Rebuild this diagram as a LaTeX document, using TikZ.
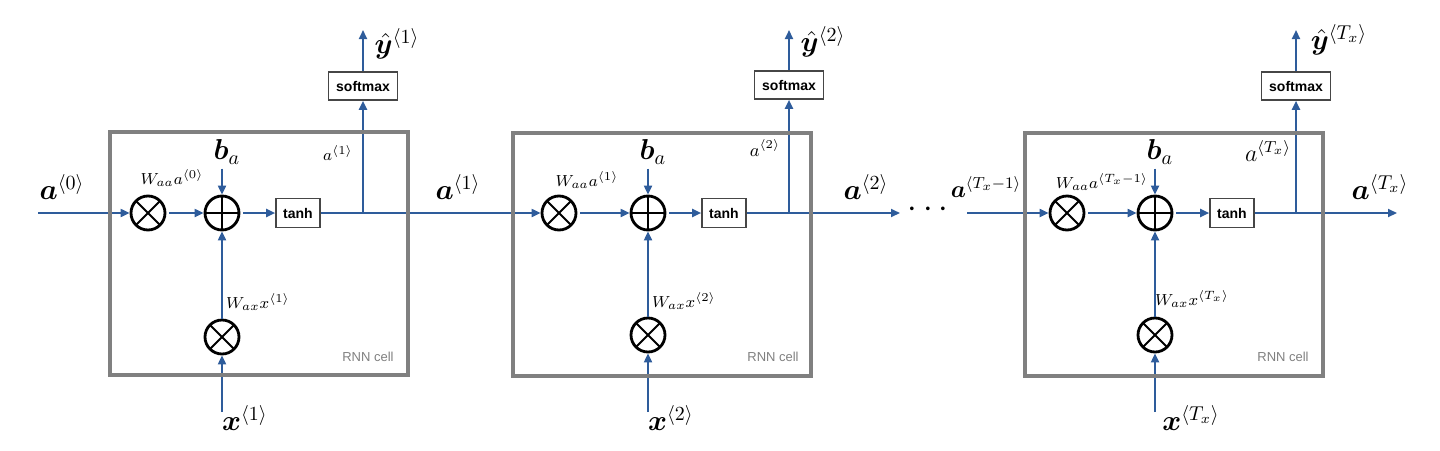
\documentclass[tikz,border=0pt]{standalone}
\usepackage{fontspec}
\usepackage{bm}
\setsansfont{Liberation Sans}
\usetikzlibrary{arrows.meta}
\definecolor{flow}{RGB}{46,92,155}
\definecolor{cellgray}{RGB}{128,128,128}
\definecolor{boxgray}{RGB}{70,70,70}
\begin{document}
\begin{tikzpicture}[x=0.5pt,y=-0.5pt,
  arr/.style={draw=flow,line width=1pt,-{Triangle[length=4.5pt,width=4pt]}},
  opnode/.style={circle,draw=black,line width=1.4pt,minimum size=17pt,inner sep=0pt},
  mult/.style={opnode,path picture={\draw[line width=0.9pt]
      (path picture bounding box.north west)--(path picture bounding box.south east)
      (path picture bounding box.north east)--(path picture bounding box.south west);}},
  plus/.style={opnode,path picture={\draw[line width=0.9pt]
      (path picture bounding box.north)--(path picture bounding box.south)
      (path picture bounding box.west)--(path picture bounding box.east);}},
  actbox/.style={draw=boxgray,line width=0.8pt,inner sep=0pt,minimum width=22pt,minimum height=14.5pt,
      font=\sffamily\bfseries\fontsize{7}{8}\selectfont},
  softbox/.style={actbox,minimum width=34.5pt,minimum height=14pt},
  cellbox/.style={draw=cellgray,line width=2pt,minimum width=149pt,minimum height=121.5pt,inner sep=0pt},
  biglab/.style={inner sep=0pt,font=\Large},
  midlab/.style={inner sep=2pt,font=\Large},
  smalllab/.style={inner sep=0pt,font=\footnotesize},
  celltag/.style={inner sep=0pt,text=cellgray,font=\sffamily\fontsize{6.5}{7}\selectfont}
]
\useasboundingbox (0,0) rectangle (1440,450);

% ---------- cell 1 ----------
\coordinate (a0in) at (38,213);
\node[mult] (m1a) at (148,213) {};
\node[plus] (p1) at (222,213) {};
\node[actbox] (t1) at (298,213) {tanh};
\coordinate (j1) at (363,213);
\node[softbox] (s1) at (363,86) {softmax};
\coordinate (y1) at (363,30);
\node[mult] (m1x) at (222,337) {};
\coordinate (x1in) at (222,412);
\node[midlab] (b1) at (227,152) {$\bm{b}_a$};
\node[biglab] (la0) at (62,187) {$\bm{a}^{\langle 0\rangle}$};
\node[smalllab] (w1a) at (172,178) {$W_{aa}a^{\langle 0\rangle}$};
\node[smalllab] (w1x) at (258,302) {$W_{ax}x^{\langle 1\rangle}$};
\node[smalllab] (h1) at (338,153) {$a^{\langle 1\rangle}$};
\node[celltag] (c1) at (368,357) {RNN cell};
\node[biglab] (lx1) at (245,418) {$\bm{x}^{\langle 1\rangle}$};
\node[biglab] (ly1) at (397,44) {$\hat{\bm{y}}^{\langle 1\rangle}$};
\node[biglab] (la1) at (458,187) {$\bm{a}^{\langle 1\rangle}$};

% ---------- cell 2 ----------
\node[mult] (m2a) at (559,213) {};
\node[plus] (p2) at (648,213) {};
\node[actbox] (t2) at (724,213) {tanh};
\coordinate (j2) at (789,213);
\node[softbox] (s2) at (789,85) {softmax};
\coordinate (y2) at (789,30);
\node[mult] (m2x) at (648,335) {};
\coordinate (x2in) at (648,412);
\coordinate (a2out) at (900,213);
\node[midlab] (b2) at (653,152) {$\bm{b}_a$};
\node[smalllab] (w2a) at (587,180) {$W_{aa}a^{\langle 1\rangle}$};
\node[smalllab] (w2x) at (684,301) {$W_{ax}x^{\langle 2\rangle}$};
\node[inner sep=0pt,font=\small] (h2) at (765,148) {$a^{\langle 2\rangle}$};
\node[celltag] (c2) at (773,357) {RNN cell};
\node[biglab] (lx2) at (671,418) {$\bm{x}^{\langle 2\rangle}$};
\node[biglab] (ly2) at (823,42) {$\hat{\bm{y}}^{\langle 2\rangle}$};
\node[biglab] (la2) at (866,187) {$\bm{a}^{\langle 2\rangle}$};

\node[inner sep=0pt,font=\LARGE] (dots) at (928,210) {$\cdots$};

% ---------- cell 3 ----------
\coordinate (a3in) at (967,213);
\node[inner sep=0pt,font=\large] (la3in) at (986,187) {$\bm{a}^{\langle T_x{-}1\rangle}$};
\node[mult] (m3a) at (1067,213) {};
\node[plus] (p3) at (1155,213) {};
\node[actbox] (t3) at (1232,213) {tanh};
\coordinate (j3) at (1296,213);
\node[softbox] (s3) at (1296,86) {softmax};
\coordinate (y3) at (1296,30);
\node[mult] (m3x) at (1155,335) {};
\coordinate (x3in) at (1155,412);
\coordinate (a3out) at (1397,213);
\node[midlab] (b3) at (1160,152) {$\bm{b}_a$};
\node[smalllab] (w3a) at (1102,182) {$W_{aa}a^{\langle T_x{-}1\rangle}$};
\node[smalllab] (w3x) at (1192,299) {$W_{ax}x^{\langle T_x\rangle}$};
\node[inner sep=0pt,font=\large] (h3) at (1268,151) {$a^{\langle T_x\rangle}$};
\node[celltag] (c3) at (1283,357) {RNN cell};
\node[biglab] (lx3) at (1191,418) {$\bm{x}^{\langle T_x\rangle}$};
\node[biglab] (ly3) at (1339,40) {$\hat{\bm{y}}^{\langle T_x\rangle}$};
\node[biglab] (la3) at (1380,187) {$\bm{a}^{\langle T_x\rangle}$};

% ---------- connectors ----------
\draw[arr] (a0in) -- (m1a);
\draw[arr,shorten <=1.5pt] (m1a) -- (p1);
\draw[arr] (b1.south -| p1) -- (p1);
\draw[arr] (m1x) -- (p1);
\draw[arr] (x1in) -- (m1x);
\draw[arr,shorten <=1.5pt] (p1) -- (t1);
\draw[arr] (t1) -- (m2a);
\draw[arr] (j1) -- (s1);
\draw[arr] (s1) -- (y1);

\draw[arr,shorten <=1.5pt] (m2a) -- (p2);
\draw[arr] (b2.south -| p2) -- (p2);
\draw[arr] (m2x) -- (p2);
\draw[arr] (x2in) -- (m2x);
\draw[arr,shorten <=1.5pt] (p2) -- (t2);
\draw[arr] (t2) -- (a2out);
\draw[arr] (j2) -- (s2);
\draw[arr] (s2) -- (y2);

\draw[arr] (a3in) -- (m3a);
\draw[arr,shorten <=1.5pt] (m3a) -- (p3);
\draw[arr] (b3.south -| p3) -- (p3);
\draw[arr] (m3x) -- (p3);
\draw[arr] (x3in) -- (m3x);
\draw[arr,shorten <=1.5pt] (p3) -- (t3);
\draw[arr] (t3) -- (a3out);
\draw[arr] (j3) -- (s3);
\draw[arr] (s3) -- (y3);

% ---------- cell frames ----------
\node[cellbox] (box1) at (258.5,253.5) {};
\node[cellbox] (box2) at (661.5,254) {};
\node[cellbox] (box3) at (1174,254.5) {};
\end{tikzpicture}
\end{document}
